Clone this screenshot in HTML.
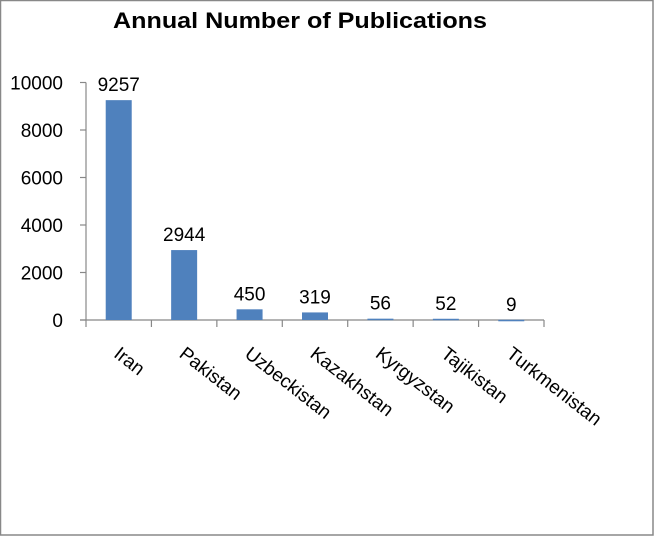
<!DOCTYPE html>
<html><head><meta charset="utf-8"><style>
body{margin:0;background:#fff}
svg{display:block;font-family:"Liberation Sans",Arial,sans-serif}
</style></head><body>
<svg width="654" height="536" viewBox="0 0 654 536">
<rect x="0.5" y="0.5" width="652.5" height="534.5" fill="#fff" stroke="#888" stroke-width="1.5"/>
<text x="300" y="28" text-anchor="middle" font-size="22" font-weight="bold" textLength="374" lengthAdjust="spacingAndGlyphs">Annual Number of Publications</text>
<g id="plot"></g>
</svg>
<script>
const categories=["Iran","Pakistan","Uzbeckistan","Kazakhstan","Kyrgyzstan","Tajikistan","Turkmenistan"];
const values=[9257,2944,450,319,56,52,9];
const yTicks=[0,2000,4000,6000,8000,10000];
const NS="http://www.w3.org/2000/svg";
const g=document.getElementById('plot');
const x0=86,x1=544,y0=320,y1=82.5,yMax=10000;
const cw=(x1-x0)/categories.length;
const yS=v=>y0-(v/yMax)*(y0-y1);
const xC=i=>x0+cw*(i+0.5);
function mk(t,a){const e=document.createElementNS(NS,t);for(const k in a)e.setAttribute(k,a[k]);g.appendChild(e);return e;}
let ax=mk('line',{x1:x0,y1:y1,x2:x0,y2:y0,stroke:'#888','stroke-width':1.2});


let bx=mk('line',{x1:x0-6,y1:y0,x2:x1,y2:y0,stroke:'#888','stroke-width':1.2});


yTicks.forEach(v=>{
  const y=yS(v);
  let t=mk('line',{x1:x0-6,y1:y,x2:x0,y2:y,stroke:'#888','stroke-width':1.2});
  
  
  let l=mk('text',{x:63,y:y+7,'text-anchor':'end','font-size':19,fill:'#000'});
  l.textContent=v;
  
  
});
for(let i=0;i<=categories.length;i++){
  let t=mk('line',{x1:x0+cw*i,y1:y0,x2:x0+cw*i,y2:y0+7,stroke:'#888','stroke-width':1.2});
  
  
}
categories.forEach((c,i)=>{
  const cx=xC(i),bw=26,y=yS(values[i]);
  let b=mk('rect',{x:cx-bw/2,y:y,width:bw,height:Math.max(y0-y,1.5),fill:'#4f81bd'});
  
  
  let v=mk('text',{x:cx,y:y-9,'text-anchor':'middle','font-size':19,fill:'#000'});
  v.textContent=values[i];
  
  
  let l=mk('text',{x:cx-6,y:356,'font-size':19,fill:'#000',transform:`rotate(38 ${cx-6} 356)`});
  l.textContent=c;
  
  
});
</script>
</body></html>
